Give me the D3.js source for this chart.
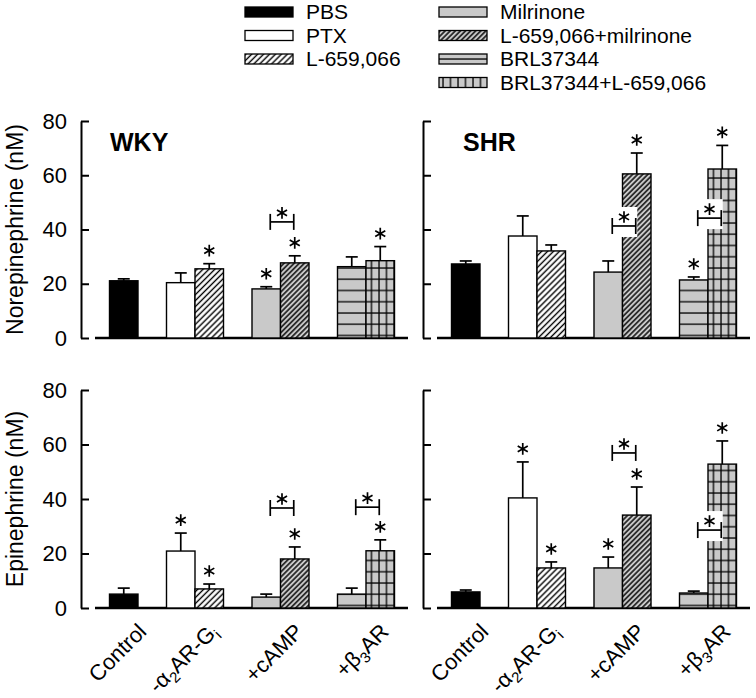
<!DOCTYPE html>
<html><head><meta charset="utf-8">
<script src="https://cdn.jsdelivr.net/npm/d3@7"></script>
<style>body{margin:0;background:#fff}svg{display:block}text{font-family:"Liberation Sans",Arial,sans-serif;fill:#000}</style>
</head><body><svg id="c" width="756" height="698"></svg>
<script>
// ---------------- data ----------------
const categories = ["Control", "-α_2AR-G_i", "+cAMP", "+β_3AR"];
const series = ["PBS", "PTX", "L-659,066", "Milrinone", "L-659,066+milrinone", "BRL37344", "BRL37344+L-659,066"];
const seriesCategory = ["Control", "-α_2AR-G_i", "-α_2AR-G_i", "+cAMP", "+cAMP", "+β_3AR", "+β_3AR"];
const strains = ["WKY", "SHR"];
const measures = ["Norepinephrine (nM)", "Epinephrine (nM)"];
const yTicks = [0, 20, 40, 60, 80];

const NE_WKY      = [21.1, 20.4, 25.5, 18.1, 27.7, 26.3, 28.5];
const NE_WKY_ERR  = [0.7, 3.6, 1.9, 0.8, 2.6, 3.6, 5.2];
const NE_WKY_STAR = [0, 0, 1, 1, 1, 0, 1];
const NE_WKY_BRACKETS = [["+cAMP", 42.8]];

const NE_SHR      = [27.3, 37.6, 32.1, 24.3, 60.5, 21.4, 62.3];
const NE_SHR_ERR  = [1.1, 7.4, 2.2, 4.1, 7.7, 1.1, 8.7];
const NE_SHR_STAR = [0, 0, 0, 0, 1, 1, 1];
const NE_SHR_BRACKETS = [["+cAMP", 41.3], ["+β_3AR", 44.2]];

const EPI_WKY      = [5.1, 20.9, 7.0, 4.0, 18.0, 5.1, 21.0];
const EPI_WKY_ERR  = [2.2, 6.6, 1.8, 1.1, 4.4, 2.2, 4.0];
const EPI_WKY_STAR = [0, 1, 1, 0, 1, 0, 1];
const EPI_WKY_BRACKETS = [["+cAMP", 36.7], ["+β_3AR", 37.0]];

const EPI_SHR      = [5.9, 40.4, 14.7, 14.7, 34.1, 5.5, 52.8];
const EPI_SHR_ERR  = [0.7, 13.2, 2.2, 4.0, 10.3, 0.7, 8.5];
const EPI_SHR_STAR = [0, 1, 1, 1, 1, 0, 1];
const EPI_SHR_BRACKETS = [["+cAMP", 56.9], ["+β_3AR", 28.6]];

// ---------------- layout / style ----------------
const GRAY = "#c9c9c9";
const svg = d3.select("#c");
const defs = svg.append("defs");
const colAxisX = [81, 423];
const titleX = [110, 463];
const rowRange = [[338, 121], [608, 390]];
const SLOT = 28.5;

function addPattern(id, kind, ox, oy) {
  const sp = {hatchW: [4.2, 4.2], hatchG: [3.6, 3.6], hl: [10, 11.25], grid: [7.5, 11.25]}[kind];
  const p = defs.append("pattern").attr("id", id).attr("patternUnits", "userSpaceOnUse")
    .attr("width", sp[0]).attr("height", sp[1]).attr("x", ox).attr("y", oy);
  p.append("rect").attr("width", sp[0]).attr("height", sp[1]).attr("fill", kind === "hatchW" ? "#fff" : GRAY);
  if (kind.startsWith("hatch")) {
    p.attr("patternTransform", "rotate(45)");
    p.append("line").attr("x1", sp[0] / 2).attr("x2", sp[0] / 2).attr("y1", 0).attr("y2", sp[1])
      .attr("stroke", "#000").attr("stroke-width", 1.4);
  } else {
    p.append("line").attr("x1", 0).attr("x2", sp[0]).attr("y1", 1).attr("y2", 1)
      .attr("stroke", "#000").attr("stroke-width", 1.3);
    if (kind === "grid") p.append("line").attr("x1", 1).attr("x2", 1).attr("y1", 0).attr("y2", sp[1])
      .attr("stroke", "#000").attr("stroke-width", 1.3);
  }
}
addPattern("hatchW", "hatchW", 0, 0);
addPattern("hatchG", "hatchG", 0, 0);

// slot index of each series: bars of a category are adjacent, one empty slot between categories
const slotIndex = [];
{
  let s = 0, prev = null;
  seriesCategory.forEach((c, i) => {
    if (prev !== null && c !== prev) s += 1;
    slotIndex.push(s); s += 1; prev = c;
  });
}

function richText(sel, str, subSize) {
  const parts = str.split(/(_.)/).filter(d => d.length);
  let sub = false;
  parts.forEach(p => {
    if (p.startsWith("_")) {
      sel.append("tspan").attr("font-size", subSize).attr("dy", sub ? 0 : 5).text(p.slice(1));
      sub = true;
    } else {
      sel.append("tspan").attr("dy", sub ? -5 : 0).text(p);
      sub = false;
    }
  });
}

const asterisk = d3.symbol(d3.symbolAsterisk, 95);

function drawPanel(row, col, vals, errs, stars, brackets) {
  const ax = colAxisX[col];
  const y = d3.scaleLinear().domain([0, 80]).range(rowRange[row]);
  const x0 = ax + 28.5;
  const x = d3.scaleLinear().domain([0, 1]).range([x0, x0 + SLOT]);
  const y0 = y(0);
  const pid = "p" + row + col;
  addPattern("hl" + pid, "hl", 0, y0 - 3.5);
  addPattern("grid" + pid, "grid", x(slotIndex[6]) + 4.5, y0 - 3.5);
  const fills = ["#000", "#fff", "url(#hatchW)", GRAY, "url(#hatchG)", "url(#hl" + pid + ")", "url(#grid" + pid + ")"];
  const g = svg.append("g");

  // y axis
  const yAxis = d3.axisLeft(y).tickValues(yTicks).tickSizeInner(-8).tickSizeOuter(0).tickPadding(14)
    .tickFormat(col === 0 ? d3.format("d") : () => "");
  const ya = g.append("g").attr("transform", `translate(${ax},0)`).call(yAxis);
  ya.select(".domain").attr("stroke-width", 2);
  ya.selectAll(".tick line").attr("stroke-width", 2);
  ya.selectAll(".tick text").attr("font-size", 22).attr("font-family", "Liberation Sans, Arial, sans-serif");

  // x axis line
  g.append("line").attr("x1", ax + 14).attr("x2", ax + 327).attr("y1", y0).attr("y2", y0)
    .attr("stroke", "#000").attr("stroke-width", 2.5);

  const data = series.map((s, i) => ({i, v: vals[i], e: errs[i], star: stars[i], xl: x(slotIndex[i])}));

  // bars
  g.selectAll("rect.bar").data(data).join("rect").attr("class", "bar")
    .attr("x", d => d.xl).attr("width", SLOT)
    .attr("y", d => y(d.v)).attr("height", d => y0 - y(d.v))
    .attr("fill", d => fills[d.i]).attr("stroke", "#000").attr("stroke-width", 1.4);

  // error bars
  const eg = g.selectAll("g.err").data(data).join("g").attr("class", "err")
    .attr("stroke", "#000").attr("stroke-width", 1.7);
  eg.append("line").attr("x1", d => d.xl + SLOT / 2).attr("x2", d => d.xl + SLOT / 2)
    .attr("y1", d => y(d.v)).attr("y2", d => y(d.v + d.e));
  eg.append("line").attr("x1", d => d.xl + SLOT / 2 - 6).attr("x2", d => d.xl + SLOT / 2 + 6)
    .attr("y1", d => y(d.v + d.e)).attr("y2", d => y(d.v + d.e));

  // stars over bars
  g.selectAll("path.star").data(data.filter(d => d.star)).join("path").attr("class", "star")
    .attr("d", asterisk).attr("transform", d => `translate(${d.xl + SLOT / 2},${y(d.v + d.e) - 13})`)
    .attr("fill", "none").attr("stroke", "#000").attr("stroke-width", 1.7);

  // brackets
  brackets.forEach(([cat, level]) => {
    const idx = seriesCategory.map((c, i) => c === cat ? i : -1).filter(i => i >= 0);
    const left = x(slotIndex[idx[0]]) + SLOT / 2 + 4;
    const right = x(slotIndex[idx[idx.length - 1]]) + SLOT / 2 - 1;
    const ly = y(level);
    const cx = (left + right) / 2;
    g.append("rect").attr("x", cx - 7).attr("y", ly - 19).attr("width", right + 1.5 - (cx - 7)).attr("height", 30)
      .attr("fill", "#fff");
    const bg = g.append("g").attr("stroke", "#000").attr("stroke-width", 1.7);
    bg.append("line").attr("x1", left).attr("x2", right).attr("y1", ly).attr("y2", ly);
    bg.append("line").attr("x1", left).attr("x2", left).attr("y1", ly - 8).attr("y2", ly + 8);
    bg.append("line").attr("x1", right).attr("x2", right).attr("y1", ly - 8).attr("y2", ly + 8);
    g.append("path").attr("d", asterisk()).attr("transform", `translate(${cx},${ly - 9})`)
      .attr("fill", "none").attr("stroke", "#000").attr("stroke-width", 1.7);
  });

  // titles
  if (row === 0) {
    g.append("text").attr("x", titleX[col]).attr("y", 151).attr("font-size", 25).attr("font-weight", "bold")
      .text(strains[col]);
  }
  if (col === 0) {
    const mid = (rowRange[row][0] + rowRange[row][1]) / 2;
    g.append("g").attr("transform", `translate(23,${mid}) rotate(-90)`)
      .append("text").attr("text-anchor", "middle").attr("font-size", 23).text(measures[row]);
  }
  // category labels (slanted, right end just below the group)
  if (row === 1) {
    categories.forEach(cat => {
      const idx = seriesCategory.map((c, i) => c === cat ? i : -1).filter(i => i >= 0);
      const cx = d3.mean(idx, i => x(slotIndex[i]) + SLOT / 2);
      const t = g.append("g").attr("transform", `translate(${(cx + 24).toFixed(1)},633) rotate(-45)`)
        .append("text").attr("text-anchor", "end").attr("font-size", 22);
      richText(t, cat, 15);
    });
  }
}

drawPanel(0, 0, NE_WKY, NE_WKY_ERR, NE_WKY_STAR, NE_WKY_BRACKETS);
drawPanel(0, 1, NE_SHR, NE_SHR_ERR, NE_SHR_STAR, NE_SHR_BRACKETS);
drawPanel(1, 0, EPI_WKY, EPI_WKY_ERR, EPI_WKY_STAR, EPI_WKY_BRACKETS);
drawPanel(1, 1, EPI_SHR, EPI_SHR_ERR, EPI_SHR_STAR, EPI_SHR_BRACKETS);

// legend
const legendCols = [245, 439];
const legendRows = [12, 35.5, 59, 82.5];
const legendPos = [[0, 0], [0, 1], [0, 2], [1, 0], [1, 1], [1, 2], [1, 3]];
const lg = svg.append("g");
series.forEach((s, i) => {
  const [c, r] = legendPos[i];
  const sx = legendCols[c], sy = legendRows[r] - 5;
  let fill = ["#000", "#fff", "url(#hatchW)", GRAY, "url(#hatchG)", "url(#lgHL)", "url(#lgGrid)"][i];
  if (i === 5) addPattern("lgHL", "hl", 0, sy + 4);
  if (i === 6) addPattern("lgGrid", "grid", sx + 3, sy - 1.5);
  lg.append("rect").attr("x", sx).attr("y", sy).attr("width", 48).attr("height", 10)
    .attr("fill", fill).attr("stroke", "#000").attr("stroke-width", 1.3);
  lg.append("text").attr("x", sx + 61).attr("y", legendRows[r] + 7).attr("font-size", 21).text(s);
});
</script></body></html>
